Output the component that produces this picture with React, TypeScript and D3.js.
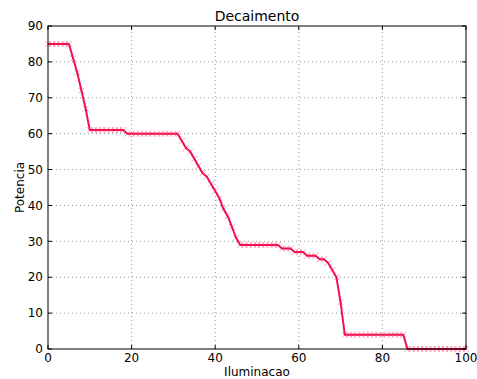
import React, { useEffect, useRef } from "react";
import * as d3 from "d3";

// Potencia per unit of Iluminacao (0..100)
const potencia = [
  85, 85, 85, 85, 85, 85,
  81, 77, 72, 67,
  61, 61, 61, 61, 61, 61, 61, 61, 61,
  60, 60, 60, 60, 60, 60, 60, 60, 60, 60, 60, 60, 60,
  58, 56, 55, 53, 51, 49, 48, 46, 44, 42, 39, 37, 34, 31,
  29, 29, 29, 29, 29, 29, 29, 29, 29, 29,
  28, 28, 28,
  27, 27, 27,
  26, 26, 26,
  25, 25,
  24, 22, 20, 13,
  4, 4, 4, 4, 4, 4, 4, 4, 4, 4, 4, 4, 4, 4, 4,
  0, 0, 0, 0, 0, 0, 0, 0, 0, 0, 0, 0, 0, 0, 0,
];
const xTicks = [0, 20, 40, 60, 80, 100];
const yTicks = [0, 10, 20, 30, 40, 50, 60, 70, 80, 90];

const App = () => {
  const ref = useRef<SVGSVGElement>(null);

  useEffect(() => {
    const svg = d3.select(ref.current);
    svg.selectAll("*").remove();

    const width = 477;
    const height = 379;
    const margin = { top: 26, right: 11, bottom: 30, left: 48 };
    const font = "DejaVu Sans, sans-serif";

    const data = potencia.map((v, i) => ({ x: i, y: v }));

    const x = d3.scaleLinear().domain([0, 100]).range([margin.left, width - margin.right]);
    const y = d3.scaleLinear().domain([0, 90]).range([height - margin.bottom, margin.top]);

    svg.append("rect").attr("width", width).attr("height", height).attr("fill", "white");

    // grid
    const grid = svg.append("g").attr("stroke", "#777").attr("stroke-width", 0.8).attr("stroke-dasharray", "1,3");
    xTicks.slice(1, -1).forEach((t) => {
      grid.append("line").attr("x1", x(t)).attr("x2", x(t)).attr("y1", y(0)).attr("y2", y(90));
    });
    yTicks.slice(1, -1).forEach((t) => {
      grid.append("line").attr("x1", x(0)).attr("x2", x(100)).attr("y1", y(t)).attr("y2", y(t));
    });

    // x markers
    const s = 3;
    svg.append("g")
      .selectAll("path")
      .data(data)
      .join("path")
      .attr("d", (d) => {
        const cx = x(d.x), cy = y(d.y);
        return `M${cx - s},${cy - s}L${cx + s},${cy + s}M${cx - s},${cy + s}L${cx + s},${cy - s}`;
      })
      .attr("stroke", "#ff7fa3")
      .attr("stroke-opacity", 0.75)
      .attr("stroke-width", 1);

    // line
    const line = d3.line<{ x: number; y: number }>().x((d) => x(d.x)).y((d) => y(d.y));
    svg.append("path")
      .datum(data)
      .attr("d", line)
      .attr("fill", "none")
      .attr("stroke", "#f0134f")
      .attr("stroke-width", 2)
      .attr("stroke-linejoin", "round");

    // frame
    svg.append("rect")
      .attr("x", x(0)).attr("y", y(90))
      .attr("width", x(100) - x(0)).attr("height", y(0) - y(90))
      .attr("fill", "none").attr("stroke", "black").attr("stroke-width", 1);

    // ticks (inside, all sides)
    const tk = svg.append("g").attr("stroke", "black").attr("stroke-width", 1);
    xTicks.forEach((t) => {
      tk.append("line").attr("x1", x(t)).attr("x2", x(t)).attr("y1", y(0)).attr("y2", y(0) - 4);
      tk.append("line").attr("x1", x(t)).attr("x2", x(t)).attr("y1", y(90)).attr("y2", y(90) + 4);
    });
    yTicks.forEach((t) => {
      tk.append("line").attr("x1", x(0)).attr("x2", x(0) + 4).attr("y1", y(t)).attr("y2", y(t));
      tk.append("line").attr("x1", x(100)).attr("x2", x(100) - 4).attr("y1", y(t)).attr("y2", y(t));
    });

    // tick labels
    svg.append("g")
      .selectAll("text")
      .data(xTicks)
      .join("text")
      .attr("x", (d) => x(d))
      .attr("y", y(0) + 13)
      .attr("text-anchor", "middle")
      .attr("font-family", font)
      .attr("font-size", 12)
      .text((d) => d);

    svg.append("g")
      .selectAll("text")
      .data(yTicks)
      .join("text")
      .attr("x", x(0) - 5)
      .attr("y", (d) => y(d))
      .attr("dy", "0.35em")
      .attr("text-anchor", "end")
      .attr("font-family", font)
      .attr("font-size", 12)
      .text((d) => d);

    // labels
    svg.append("text")
      .attr("x", (x(0) + x(100)) / 2)
      .attr("y", 376)
      .attr("text-anchor", "middle")
      .attr("font-family", font)
      .attr("font-size", 12)
      .text("Iluminacao");

    svg.append("text")
      .attr("transform", `translate(24,${(y(0) + y(90)) / 2}) rotate(-90)`)
      .attr("text-anchor", "middle")
      .attr("font-family", font)
      .attr("font-size", 12)
      .text("Potencia");

    svg.append("text")
      .attr("x", (x(0) + x(100)) / 2)
      .attr("y", 21)
      .attr("text-anchor", "middle")
      .attr("font-family", font)
      .attr("font-size", 14)
      .text("Decaimento");
  }, []);

  return (
    <svg
      ref={ref}
      width={477}
      height={379}
      style={{ position: "absolute", left: 0, top: 0 }}
    />
  );
};

export default App;
